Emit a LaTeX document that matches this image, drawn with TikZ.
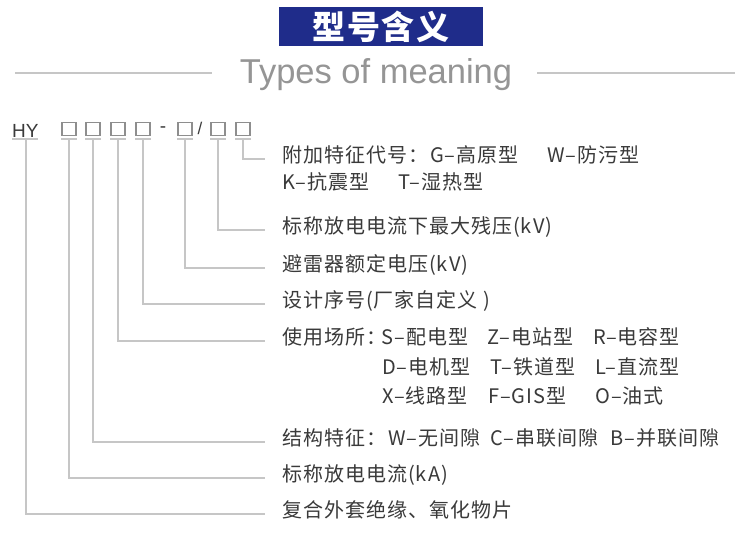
\documentclass[tikz,border=0pt]{standalone}
\usepackage{fontspec}
\setmainfont{Noto Sans CJK SC}[LetterSpace=5]
\newfontfamily\latinfont{Liberation Sans}
\usetikzlibrary{positioning,calc}
\definecolor{TitleBlue}{HTML}{1F2C8A}
\definecolor{TextDark}{HTML}{3A3A3A}
\definecolor{TextGray}{HTML}{959595}
\definecolor{LineGray}{HTML}{C6C6C6}
\definecolor{BoxGray}{HTML}{8E8E8E}
\tikzset{
  titlebox/.style={fill=TitleBlue,text=white,minimum width=204pt,minimum height=39pt,inner sep=0pt,font=\fontsize{33}{33}\selectfont\bfseries},
  subtitle/.style={text=TextGray,inner sep=0pt,font=\latinfont\fontsize{34.5}{34.5}\selectfont},
  headline/.style={draw=LineGray,line width=1.3pt},
  codebox/.style={draw=BoxGray,line width=1.1pt,minimum width=14pt,minimum height=13pt,inner sep=0pt},
  codetext/.style={text=TextDark,inner sep=0pt,font=\latinfont\fontsize{19}{19}\selectfont},
  underline/.style={draw=LineGray,line width=1.2pt},
  leader/.style={draw=LineGray,line width=1.2pt,shorten >=17pt},
  desc/.style={anchor=west,inner sep=0pt,text=TextDark,text height=0.88em,text depth=0.12em,font=\fontsize{20}{22}\selectfont}
}
\begin{document}
\begin{tikzpicture}[x=1pt,y=-1pt]
\useasboundingbox (0,0) rectangle (750,555);
\fill[white] (0,0) rectangle (750,555);
% title
\node[titlebox] (title) at (381,26.5) {型号含义};
\node[subtitle,anchor=base] (sub) at (376,83) {Types of meaning};
\draw[headline] (15,73) -- (212,73);
\draw[headline] (537,73) -- (735,73);
% code line
\node[codetext,anchor=base west] (hy) at (12,137) {HY};
\foreach \n/\x in {b1/69,b2/93,b3/118,b4/143,b5/185,b6/218,b7/243}
  \node[codebox] (\n) at (\x,129) {};
\node[codetext] (dash) at (163,129.5) {-};
\node[codetext,font=\latinfont\fontsize{17}{17}\selectfont] (slash) at (200,128) {/};
\draw[underline] (12,139) -- (38,139);
\foreach \n in {b1,b2,b3,b4,b5,b6,b7}
  \draw[underline] ([yshift=-3pt]\n.south west) -- ([yshift=-3pt]\n.south east);
% descriptions
\node[desc] (l7) at (282,159) {附加特征代号：};
\node[desc] (l7g) at (430,159) {G–高原型};
\node[desc] (l7w) at (547,159) {W–防污型};
\node[desc] (l7k) at (282,186) {K–抗震型};
\node[desc] (l7t) at (398,186) {T–湿热型};
\node[desc] (l6) at (282,230) {标称放电电流下最大残压(kV)};
\node[desc] (l5) at (282,268) {避雷器额定电压(kV)};
\node[desc] (l4) at (282,304) {设计序号(厂家自定义 )};
\node[desc] (l3) at (282,341) {使用场所：};
\node[desc] (l3s) at (381,341) {S–配电型};
\node[desc] (l3z) at (487,341) {Z–电站型};
\node[desc] (l3r) at (593,341) {R–电容型};
\node[desc] (l3d) at (382,371) {D–电机型};
\node[desc] (l3t) at (490,371) {T–铁道型};
\node[desc] (l3l) at (595,371) {L–直流型};
\node[desc] (l3x) at (382,400) {X–线路型};
\node[desc] (l3f) at (488,400) {F–GIS型};
\node[desc] (l3o) at (595,400) {O–油式};
\node[desc] (l2) at (282,442) {结构特征：};
\node[desc] (l2w) at (388,442) {W–无间隙};
\node[desc] (l2c) at (490,442) {C–串联间隙};
\node[desc] (l2b) at (610,442) {B–并联间隙};
\node[desc] (l1) at (282,478) {标称放电电流(kA)};
\node[desc] (l0) at (282,514) {复合外套绝缘、氧化物片};
% leaders
\draw[leader] (26,139) |- (l0.west);
\draw[leader] ([yshift=-3pt]b1.south) |- (l1.west);
\draw[leader] ([yshift=-3pt]b2.south) |- (l2.west);
\draw[leader] ([yshift=-3pt]b3.south) |- (l3.west);
\draw[leader] ([yshift=-3pt]b4.south) |- (l4.west);
\draw[leader] ([yshift=-3pt]b5.south) |- (l5.west);
\draw[leader] ([yshift=-3pt]b6.south) |- (l6.west);
\draw[leader] ([yshift=-3pt]b7.south) |- (l7.west);
\end{tikzpicture}
\end{document}
